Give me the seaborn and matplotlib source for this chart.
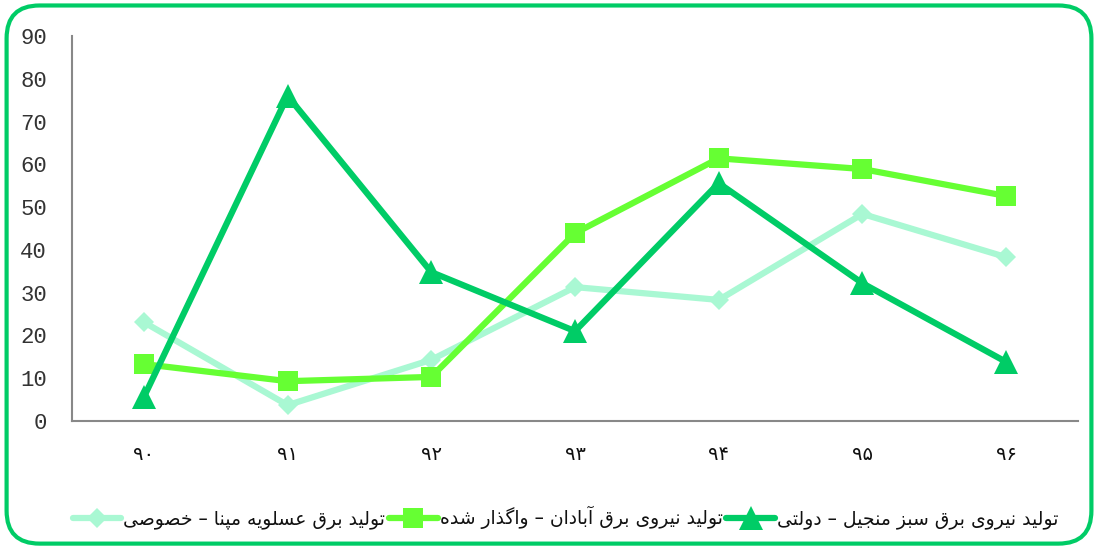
import matplotlib
matplotlib.use("Agg")
import matplotlib.pyplot as plt
import numpy as np
import pandas as pd
import seaborn as sns
from matplotlib.lines import Line2D
from matplotlib.patches import FancyBboxPatch

# --- data ---
years = ["۹۰", "۹۱", "۹۲", "۹۳", "۹۴", "۹۵", "۹۶"]
asaluyeh_private = [23.1, 3.7, 14.3, 31.3, 28.3, 48.4, 38.3]
abadan_transferred = [13.3, 9.3, 10.3, 43.9, 61.4, 58.9, 52.6]
manjil_state = [5.6, 76.0, 34.8, 21.0, 55.6, 32.2, 13.8]
series_names = [
    "تولید برق عسلویه مپنا – خصوصی",
    "تولید نیروی برق آبادان – واگذار شده",
    "تولید نیروی برق سبز منجیل – دولتی",
]
y_ticks = [0, 10, 20, 30, 40, 50, 60, 70, 80, 90]

colors = ["#A9F8D3", "#66FF33", "#00CC66"]
markers = ["D", "s", "^"]
marker_sizes = [10, 14, 17]

# matplotlib has no arabic shaping, so map letters to presentation forms
# (isolated, final, initial, medial) and reverse for display
FORMS = {
    "ا": "\uFE8D\uFE8E", "آ": "\uFE81\uFE82",
    "د": "\uFEA9\uFEAA", "ذ": "\uFEAB\uFEAC", "ر": "\uFEAD\uFEAE",
    "ز": "\uFEAF\uFEB0", "و": "\uFEED\uFEEE",
    "ب": "\uFE8F\uFE90\uFE91\uFE92", "پ": "\uFB56\uFB57\uFB58\uFB59",
    "ت": "\uFE95\uFE96\uFE97\uFE98", "ج": "\uFE9D\uFE9E\uFE9F\uFEA0",
    "خ": "\uFEA5\uFEA6\uFEA7\uFEA8", "س": "\uFEB1\uFEB2\uFEB3\uFEB4",
    "ش": "\uFEB5\uFEB6\uFEB7\uFEB8", "ص": "\uFEB9\uFEBA\uFEBB\uFEBC",
    "ع": "\uFEC9\uFECA\uFECB\uFECC", "ق": "\uFED5\uFED6\uFED7\uFED8",
    "گ": "\uFB92\uFB93\uFB94\uFB95", "ل": "\uFEDD\uFEDE\uFEDF\uFEE0",
    "م": "\uFEE1\uFEE2\uFEE3\uFEE4", "ن": "\uFEE5\uFEE6\uFEE7\uFEE8",
    "ه": "\uFEE9\uFEEA\uFEEB\uFEEC", "ی": "\uFBFC\uFBFD\uFBFE\uFBFF",
}


def shape(text):
    out = []
    for i, ch in enumerate(text):
        if ch not in FORMS:
            out.append(ch)
            continue
        prev = text[i - 1] if i > 0 else ""
        nxt = text[i + 1] if i + 1 < len(text) else ""
        joins_prev = prev in FORMS and len(FORMS[prev]) == 4
        joins_next = len(FORMS[ch]) == 4 and nxt in FORMS
        f = FORMS[ch]
        if joins_prev and joins_next:
            out.append(f[3])
        elif joins_prev:
            out.append(f[1])
        elif joins_next:
            out.append(f[2])
        else:
            out.append(f[0])
    return "".join(out)[::-1]


df = pd.DataFrame({"year": years * 3,
                   "value": asaluyeh_private + abadan_transferred + manjil_state,
                   "series": np.repeat(series_names, len(years))})

sns.set_theme(style="white")
plt.rcParams["font.family"] = ["DejaVu Sans", "Noto Sans"]

fig = plt.figure(figsize=(10.98, 5.48), dpi=100)
ax = fig.add_axes([0.0656, 0.2318, 0.9162, 0.7025])

for name, c, m, ms in zip(series_names, colors, markers, marker_sizes):
    sns.lineplot(data=df[df["series"] == name], x="year", y="value", sort=False,
                 color=c, marker=m, markersize=ms, markeredgewidth=0,
                 linewidth=4.5, ax=ax, legend=False)

ax.set_xlim(-0.5, 6.5)
ax.set_ylim(0, 90)
ax.set_yticks(y_ticks)
ax.set_xlabel("")
ax.set_ylabel("")
for lbl in ax.get_yticklabels():
    lbl.set_family("Liberation Mono")
    lbl.set_fontsize(16)
    lbl.set_color("#333333")
for lbl in ax.get_xticklabels():
    lbl.set_fontsize(14)
    lbl.set_color("#111111")
ax.tick_params(axis="y", length=0, pad=18)
ax.tick_params(axis="x", length=0, pad=17)
sns.despine(ax=ax)
for s in ["left", "bottom"]:
    ax.spines[s].set_color("#888888")
    ax.spines[s].set_linewidth(1.5)

handles = [Line2D([0], [0], color=c, marker=m, markersize=ms, markeredgewidth=0,
                  linewidth=4.5)
           for c, m, ms in zip(colors, markers, marker_sizes)]
fig.legend(handles, [shape(n) for n in series_names], ncol=3, loc="center",
           bbox_to_anchor=(0.515, 0.055), frameon=False,
           prop={"size": 13.5}, labelcolor="#111111",
           handlelength=2.6, handletextpad=0.1, columnspacing=0.2)

border = FancyBboxPatch((0.006, 0.008), 0.988, 0.982, transform=fig.transFigure,
                        boxstyle="round,pad=0,rounding_size=0.03",
                        facecolor="none", edgecolor="#00CC66", linewidth=3,
                        mutation_aspect=2.0)
fig.patches.append(border)

fig.savefig("out.png", dpi=100)
